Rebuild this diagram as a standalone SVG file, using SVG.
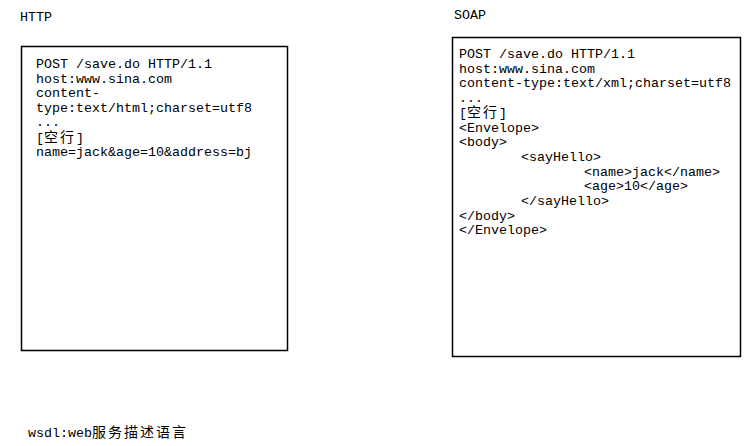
<svg xmlns="http://www.w3.org/2000/svg" width="755" height="446" viewBox="0 0 755 446">
<style>
.bg{fill:#ffffff}
.box{fill:#ffffff;stroke:#000000;stroke-width:1.5}
.t{font-family:"Liberation Mono","DejaVu Sans Mono","Noto Sans CJK SC",monospace;font-size:13.33px;fill:#000000}
.cjk{font-family:"Noto Sans CJK SC","Noto Sans CJK JP",sans-serif;font-size:14px;letter-spacing:2px}
</style>
<rect class="bg" x="0" y="0" width="755" height="446"/>
<g id="label-http">
<text class="t" x="20" y="20.5">HTTP</text>
</g>
<g id="label-soap">
<text class="t" x="454" y="18.5">SOAP</text>
</g>
<g id="http-box">
<rect class="box" x="21.5" y="46.5" width="266" height="304"/>
<text class="t" x="36" y="68">POST /save.do HTTP/1.1</text>
<text class="t" x="36" y="82.7">host:www.sina.com</text>
<text class="t" x="36" y="97.4">content-</text>
<text class="t" x="36" y="112.1">type:text/html;charset=utf8</text>
<text class="t" x="36" y="126.3">...</text>
<text class="t" x="36" y="141.5">[<tspan class="cjk">空行</tspan>]</text>
<text class="t" x="36" y="156.2">name=jack&amp;age=10&amp;address=bj</text>
</g>
<g id="soap-box">
<rect class="box" x="452.5" y="37.5" width="288" height="319"/>
<text class="t" x="459" y="58">POST /save.do HTTP/1.1</text>
<text class="t" x="459" y="72.7">host:www.sina.com</text>
<text class="t" x="459" y="87.4">content-type:text/xml;charset=utf8</text>
<text class="t" x="459" y="101.6">...</text>
<text class="t" x="459" y="116.8">[<tspan class="cjk">空行</tspan>]</text>
<text class="t" x="459" y="131.5">&lt;Envelope&gt;</text>
<text class="t" x="459" y="146.2">&lt;body&gt;</text>
<text class="t" x="521" y="160.9">&lt;sayHello&gt;</text>
<text class="t" x="584" y="175.6">&lt;name&gt;jack&lt;/name&gt;</text>
<text class="t" x="584" y="190.3">&lt;age&gt;10&lt;/age&gt;</text>
<text class="t" x="521" y="205">&lt;/sayHello&gt;</text>
<text class="t" x="459" y="219.7">&lt;/body&gt;</text>
<text class="t" x="459" y="234.4">&lt;/Envelope&gt;</text>
</g>
<g id="note-wsdl">
<text class="t" x="28" y="437">wsdl:web<tspan class="cjk">服务描述语言</tspan></text>
</g>
</svg>
